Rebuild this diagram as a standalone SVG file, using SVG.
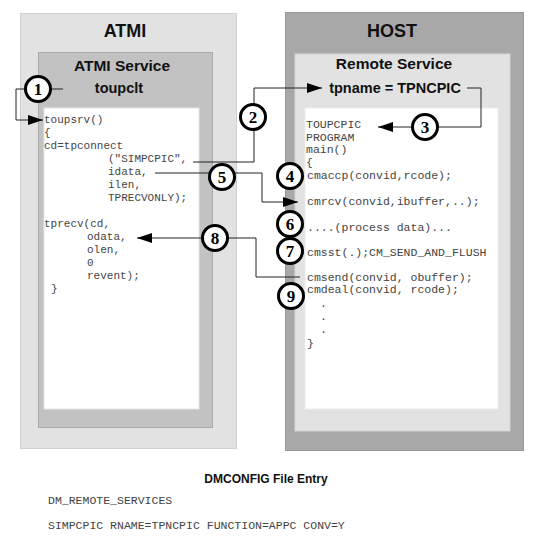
<svg xmlns="http://www.w3.org/2000/svg" width="543" height="555" viewBox="0 0 543 555">
<style>
.title{font-family:"Liberation Sans",Arial,sans-serif;font-weight:bold;fill:#111;text-anchor:middle}
.code{font-family:"Liberation Mono","Courier New",monospace;font-size:11px;fill:#444;white-space:pre}
.hcode{font-family:"Liberation Mono","Courier New",monospace;font-size:11.5px;fill:#444;white-space:pre}
.num{font-family:"Liberation Serif","Times New Roman",serif;font-weight:bold;font-size:17px;fill:#000;text-anchor:middle}
.circ{fill:#fff;stroke:#000;stroke-width:3}
.conn{fill:none;stroke:#222;stroke-width:1}
</style>
<defs>
<marker id="arr" markerUnits="userSpaceOnUse" markerWidth="15" markerHeight="10" refX="15" refY="5" orient="auto">
<path d="M0,0 L15,5 L0,10 z" fill="#000"/>
</marker>
</defs>
<rect width="543" height="555" fill="#fff"/>

<g id="atmi">
<rect x="20.5" y="13.5" width="216" height="435" fill="#e2e2e2" stroke="#d0d0d0"/>
<text class="title" x="125" y="37" font-size="18">ATMI</text>
</g>
<g id="atmi-service">
<rect x="38.5" y="52.5" width="174" height="375" fill="#c2c2c2" stroke="#aaaaaa"/>
<text class="title" x="122" y="71" font-size="15.5">ATMI Service</text>
<text class="title" x="119" y="93" font-size="14.5">toupclt</text>
</g>
<g id="atmi-code">
<rect x="44" y="108" width="155" height="301" fill="#fff" stroke="#e6e6e6"/>
<text class="code" x="44" y="123">toupsrv()</text>
<text class="code" x="44" y="136">{</text>
<text class="code" x="44" y="149">cd=tpconnect</text>
<text class="code" x="108" y="162">("SIMPCPIC",</text>
<text class="code" x="108" y="175">idata,</text>
<text class="code" x="108" y="188">ilen,</text>
<text class="code" x="108" y="201">TPRECVONLY);</text>
<text class="code" x="44" y="227">tprecv(cd,</text>
<text class="code" x="87" y="240">odata,</text>
<text class="code" x="87" y="253">olen,</text>
<text class="code" x="87" y="266">0</text>
<text class="code" x="87" y="279">revent);</text>
<text class="code" x="51" y="292">}</text>
</g>

<g id="host">
<rect x="285.5" y="12.5" width="238" height="438" fill="#a8a8a8" stroke="#999"/>
<text class="title" x="392" y="37" font-size="18">HOST</text>
</g>
<g id="remote-service">
<rect x="295" y="54" width="215" height="377" fill="#e2e2e2" stroke="#d6d6d6"/>
<text class="title" x="394" y="69" font-size="15.5">Remote Service</text>
<text class="title" x="395" y="93" font-size="14.5">tpname = TPNCPIC</text>
</g>
<g id="host-code">
<rect x="305" y="108" width="193" height="301" fill="#fff" stroke="#ececec"/>
<text class="hcode" x="306" y="128">TOUPCPIC</text>
<text class="hcode" x="306" y="141">PROGRAM</text>
<text class="hcode" x="306" y="153">main()</text>
<text class="hcode" x="306" y="166">{</text>
<text class="hcode" x="307" y="179">cmaccp(convid,rcode);</text>
<text class="hcode" x="307" y="205">cmrcv(convid,ibuffer,..);</text>
<text class="hcode" x="307" y="231">....(process data)...</text>
<text class="hcode" x="307" y="256">cmsst(.);CM_SEND_AND_FLUSH</text>
<text class="hcode" x="307" y="281">cmsend(convid, obuffer);</text>
<text class="hcode" x="307" y="293">cmdeal(convid, rcode);</text>
<text class="hcode" x="320" y="307">.</text>
<text class="hcode" x="320" y="320">.</text>
<text class="hcode" x="320" y="333">.</text>
<text class="hcode" x="307" y="347">}</text>
</g>

<g id="connectors">
<path class="conn" d="M63,89 H16 V120 H43" marker-end="url(#arr)"/>
<path class="conn" d="M193,162 H254 V88 H322" marker-end="url(#arr)"/>
<path class="conn" d="M155,173 H262 V202 H298" marker-end="url(#arr)"/>
<path class="conn" d="M467,88 H481 V127 H378" marker-end="url(#arr)"/>
<path class="conn" d="M300,277 H256 V238 H137" marker-end="url(#arr)"/>
</g>

<g id="step1"><circle class="circ" cx="38" cy="89" r="12.5"/><text class="num" x="38" y="95">1</text></g>
<g id="step2"><circle class="circ" cx="253" cy="117" r="12.5"/><text class="num" x="253" y="123">2</text></g>
<g id="step3"><circle class="circ" cx="425" cy="127" r="12.5"/><text class="num" x="425" y="133">3</text></g>
<g id="step4"><circle class="circ" cx="290" cy="176" r="12.5"/><text class="num" x="290" y="182">4</text></g>
<g id="step5"><circle class="circ" cx="222" cy="177" r="12.5"/><text class="num" x="222" y="183">5</text></g>
<g id="step6"><circle class="circ" cx="290" cy="224" r="12.5"/><text class="num" x="290" y="230">6</text></g>
<g id="step7"><circle class="circ" cx="290" cy="251" r="12.5"/><text class="num" x="290" y="257">7</text></g>
<g id="step8"><circle class="circ" cx="215" cy="238" r="12.5"/><text class="num" x="215" y="244">8</text></g>
<g id="step9"><circle class="circ" cx="291" cy="296" r="12.5"/><text class="num" x="291" y="302">9</text></g>

<g id="dmconfig">
<text class="title" x="266" y="483" font-size="12">DMCONFIG File Entry</text>
<text class="hcode" x="48" y="504">DM_REMOTE_SERVICES</text>
<text class="hcode" x="48" y="529">SIMPCPIC RNAME=TPNCPIC FUNCTION=APPC CONV=Y</text>
</g>
</svg>
